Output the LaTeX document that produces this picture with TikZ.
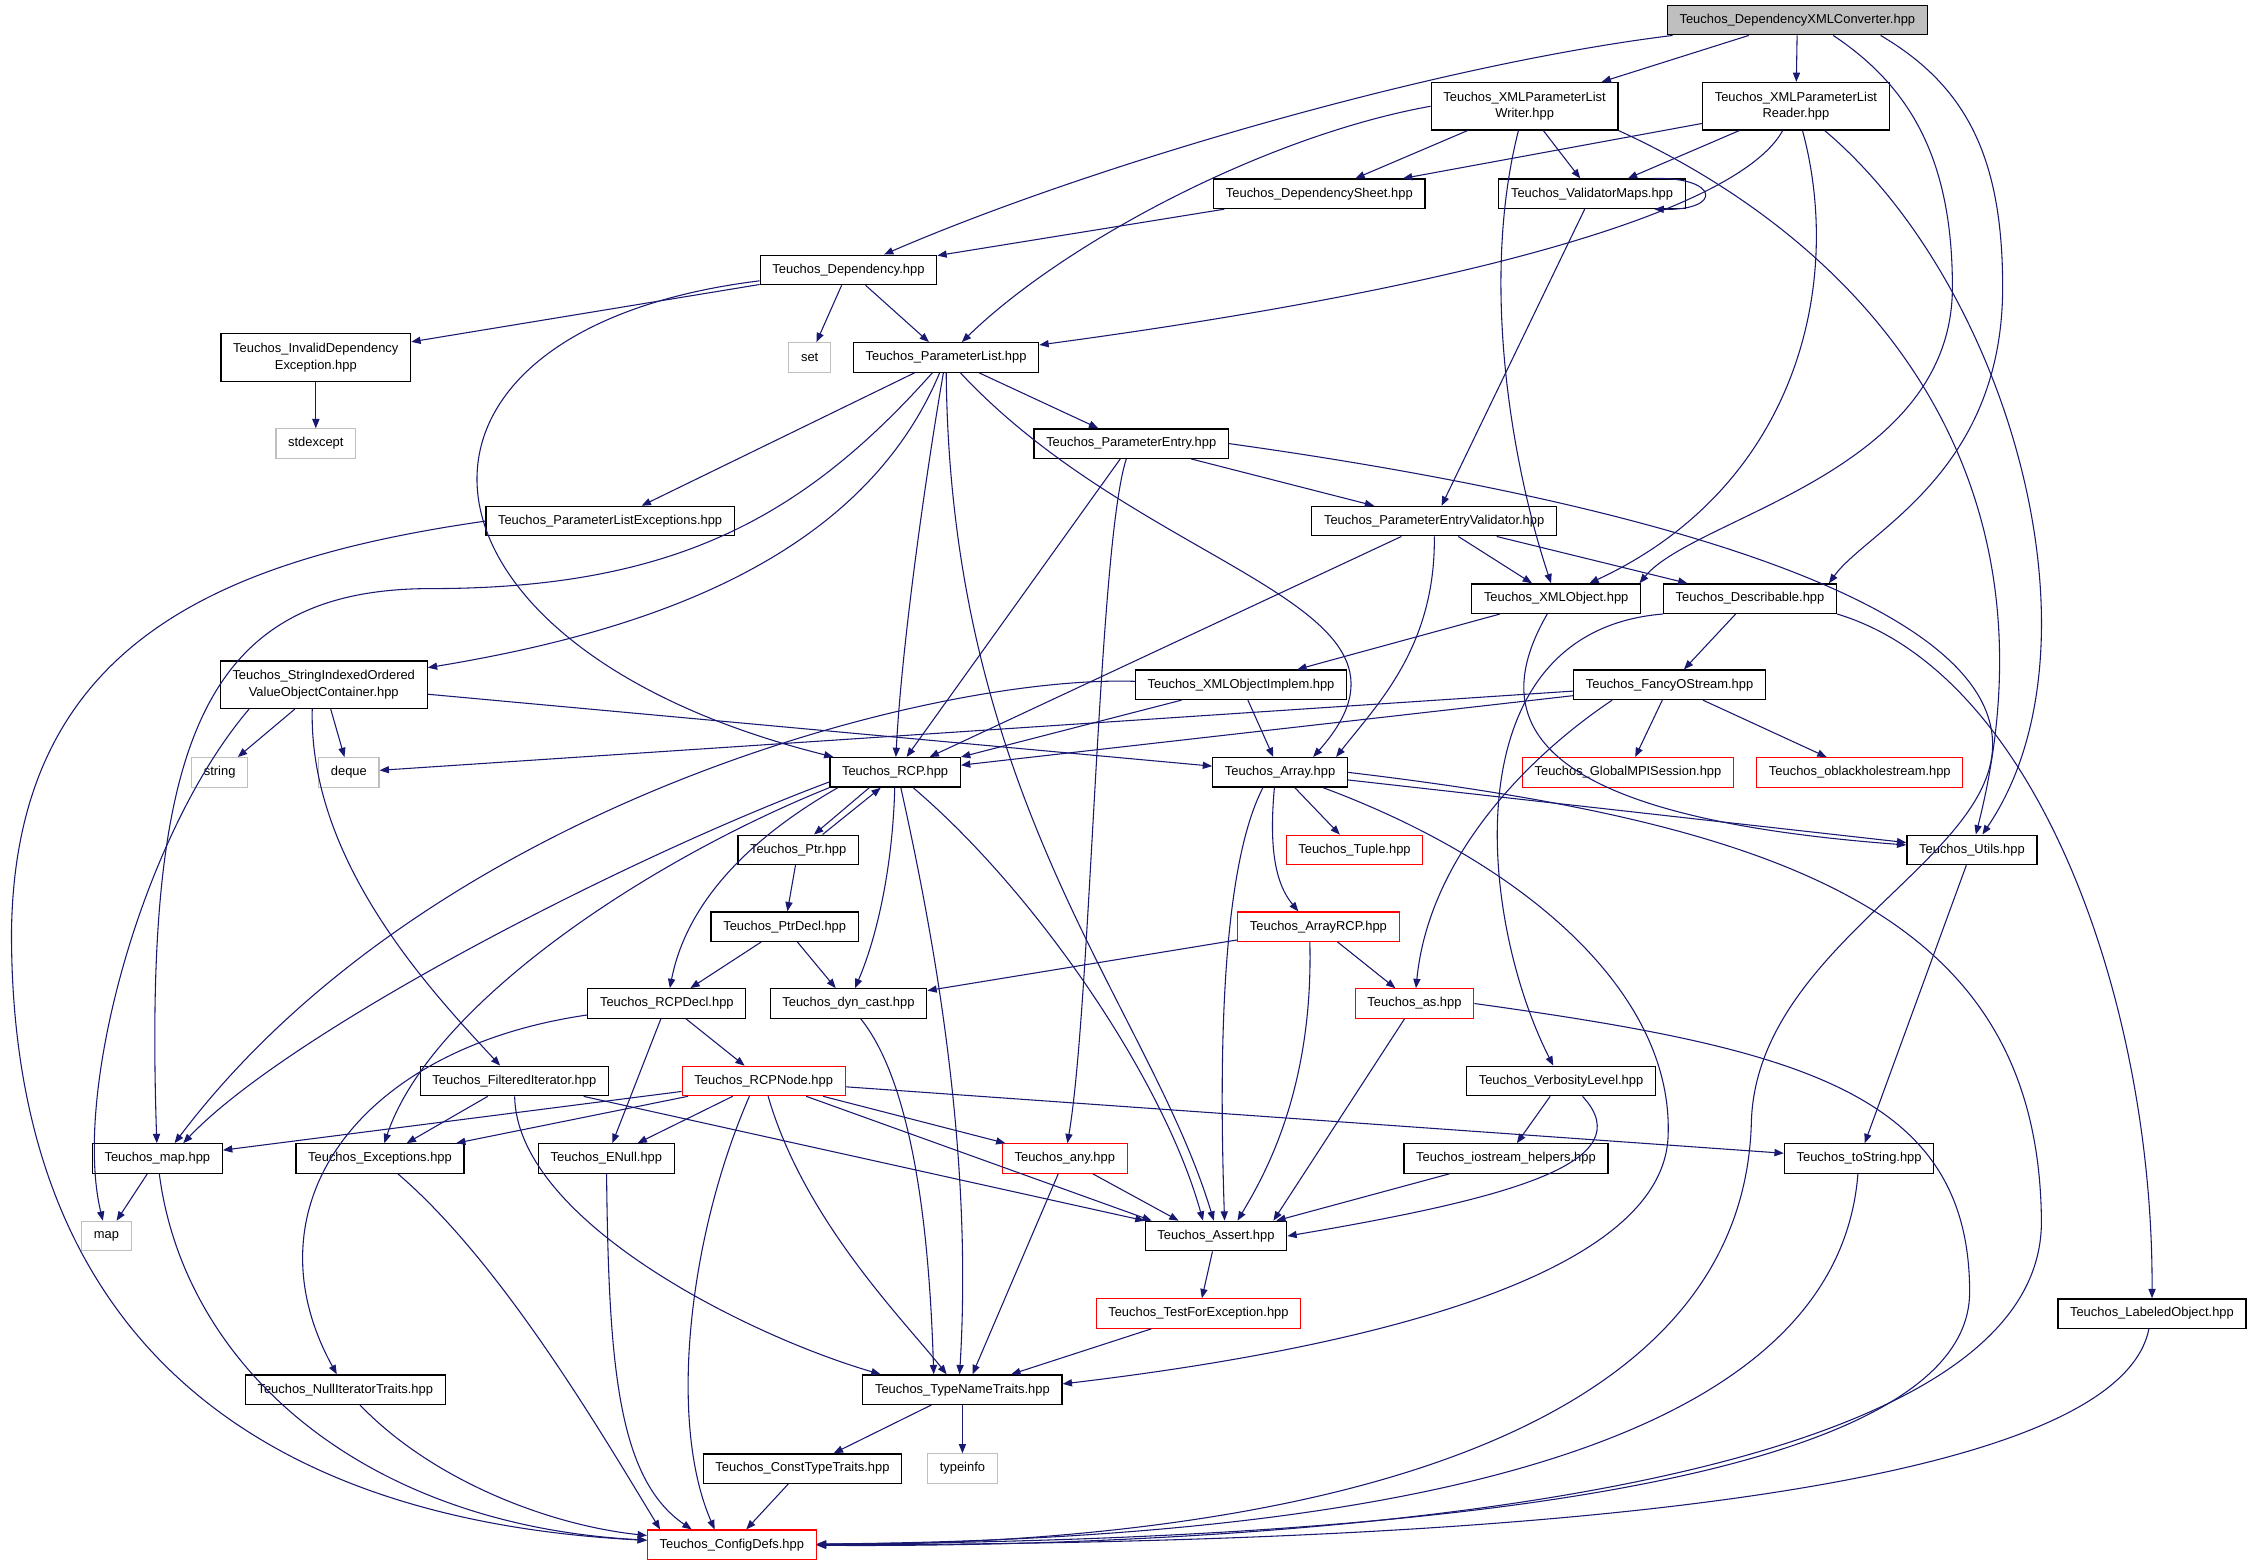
\documentclass[tikz,border=0pt]{standalone}
\usepackage{fontspec}
\setmainfont{Liberation Sans}
\usepackage[rgb]{xcolor}
\usepackage{tikz}
\usetikzlibrary{arrows.meta}
\definecolor{dox_edge}{HTML}{191970}
\definecolor{dox_gray}{HTML}{BFBFBF}
\definecolor{dox_red}{HTML}{FF0000}

\begin{document}
\begin{tikzpicture}[x=1pt, y=-1pt,
        hfile/.style={draw=black, line width=0.9pt, fill=white, font=\fontsize{9}{11.5}\selectfont,
            inner xsep=8.5pt, inner ysep=3pt, minimum height=20.5pt, align=center},
        twoline/.style={minimum height=33pt},
        sysfile/.style={hfile, draw=dox_gray, line width=0.8pt},
        errfile/.style={hfile, draw=dox_red, line width=0.8pt},
        rootfile/.style={hfile, fill=dox_gray},
        incl/.style={draw=dox_edge, line width=0.75pt, -{Triangle[length=6.5pt,width=5pt]}}]

        \useasboundingbox (0,0) rectangle (1568,1090);

        \node[rootfile] (conv) at (1252,14) {Teuchos\_DependencyXMLConverter.hpp};
        \node[hfile, twoline] (writer) at (1062,74) {Teuchos\_XMLParameterList\\Writer.hpp};
        \node[hfile, twoline] (reader) at (1251,74) {Teuchos\_XMLParameterList\\Reader.hpp};
        \node[hfile] (depsheet) at (919,135) {Teuchos\_DependencySheet.hpp};
        \node[hfile] (valmaps) at (1109,135) {Teuchos\_ValidatorMaps.hpp};
        \node[hfile] (dep) at (591,188) {Teuchos\_Dependency.hpp};
        \node[hfile, twoline] (invdep) at (220,249) {Teuchos\_InvalidDependency\\Exception.hpp};
        \node[sysfile] (set) at (564,249) {set};
        \node[hfile] (plist) at (659,249) {Teuchos\_ParameterList.hpp};
        \node[sysfile] (stdexcept) at (220,309) {stdexcept};
        \node[hfile] (pentry) at (788,309) {Teuchos\_ParameterEntry.hpp};
        \node[hfile] (plexc) at (425,363) {Teuchos\_ParameterListExceptions.hpp};
        \node[hfile] (pev) at (999,363) {Teuchos\_ParameterEntryValidator.hpp};
        \node[hfile] (xmlobj) at (1084,417) {Teuchos\_XMLObject.hpp};
        \node[hfile] (describ) at (1219,417) {Teuchos\_Describable.hpp};
        \node[hfile, twoline] (sioc) at (225.5,477) {Teuchos\_StringIndexedOrdered\\ValueObjectContainer.hpp};
        \node[hfile] (xmlimpl) at (864.5,477) {Teuchos\_XMLObjectImplem.hpp};
        \node[hfile] (fancy) at (1163,477) {Teuchos\_FancyOStream.hpp};
        \node[sysfile] (string) at (153,538) {string};
        \node[sysfile] (deque) at (243,538) {deque};
        \node[hfile] (rcp) at (623.5,538) {Teuchos\_RCP.hpp};
        \node[hfile] (array) at (891.7,538) {Teuchos\_Array.hpp};
        \node[errfile] (gmpi) at (1134,538) {Teuchos\_GlobalMPISession.hpp};
        \node[errfile] (oblack) at (1295.5,538) {Teuchos\_oblackholestream.hpp};
        \node[hfile] (ptr) at (556,592) {Teuchos\_Ptr.hpp};
        \node[errfile] (tuple) at (943.5,592) {Teuchos\_Tuple.hpp};
        \node[hfile] (utils) at (1373.6,592) {Teuchos\_Utils.hpp};
        \node[hfile] (ptrdecl) at (546.6,645.5) {Teuchos\_PtrDecl.hpp};
        \node[errfile] (arcp) at (918.4,645.5) {Teuchos\_ArrayRCP.hpp};
        \node[hfile] (rcpdecl) at (464.5,699) {Teuchos\_RCPDecl.hpp};
        \node[hfile] (dyncast) at (591,699) {Teuchos\_dyn\_cast.hpp};
        \node[errfile] (as) at (985.3,699) {Teuchos\_as.hpp};
        \node[hfile] (filt) at (358.3,753) {Teuchos\_FilteredIterator.hpp};
        \node[errfile] (rcpnode) at (532,753) {Teuchos\_RCPNode.hpp};
        \node[hfile] (verb) at (1087.4,753) {Teuchos\_VerbosityLevel.hpp};
        \node[hfile] (maphpp) at (109.6,807) {Teuchos\_map.hpp};
        \node[hfile] (exc) at (264.7,807) {Teuchos\_Exceptions.hpp};
        \node[hfile] (enull) at (422.4,807) {Teuchos\_ENull.hpp};
        \node[errfile] (any) at (741.7,807) {Teuchos\_any.hpp};
        \node[hfile] (iohelp) at (1049,807) {Teuchos\_iostream\_helpers.hpp};
        \node[hfile] (tostr) at (1295,807) {Teuchos\_toString.hpp};
        \node[sysfile] (map) at (74.2,861) {map};
        \node[hfile] (assert) at (847,861) {Teuchos\_Assert.hpp};
        \node[errfile] (testexc) at (834.8,915) {Teuchos\_TestForException.hpp};
        \node[hfile] (labeled) at (1499,915) {Teuchos\_LabeledObject.hpp};
        \node[hfile] (nulliter) at (240.5,968) {Teuchos\_NullIteratorTraits.hpp};
        \node[hfile] (typename) at (670.4,968) {Teuchos\_TypeNameTraits.hpp};
        \node[hfile] (consttype) at (559,1023) {Teuchos\_ConstTypeTraits.hpp};
        \node[sysfile] (typeinfo) at (670.4,1023) {typeinfo};
        \node[errfile] (config) at (509.8,1076) {Teuchos\_ConfigDefs.hpp};

        \draw[incl] (conv) -- (writer);
        \draw[incl] (conv) -- (reader);
        \draw[incl] (conv) .. controls (1000,45) and (760,115) .. (dep);
        \draw[incl] ([xshift=25pt]conv.south) .. controls (1330,60) and (1360,110) .. (1360,200)
            .. controls (1360,330) and (1180,360) .. ([xshift=58pt]xmlobj.north);
        \draw[incl] ([xshift=58pt]conv.south) .. controls (1370,60) and (1395,110) .. (1395,200)
            .. controls (1395,330) and (1300,370) .. ([xshift=55pt]describ.north);

        \draw[incl] (writer) -- (depsheet);
        \draw[incl] (writer) -- (valmaps);
        \draw[incl] (writer.west) .. controls (880,95) and (740,170) .. (plist);
        \draw[incl] (writer) .. controls (1030,200) and (1055,330) .. (xmlobj);
        \draw[incl] (writer.south east) .. controls (1300,170) and (1440,330) .. (utils);

        \draw[incl] (reader) -- (depsheet);
        \draw[incl] (reader) -- (valmaps);
        \draw[incl] (reader) .. controls (1215,140) and (1060,195) .. (plist);
        \draw[incl] (reader) .. controls (1285,200) and (1250,340) .. (xmlobj);
        \draw[incl] (reader) .. controls (1400,200) and (1470,450) .. (utils);

        \draw[incl] ([xshift=-22pt]valmaps.north east) .. controls +(45,-1) and +(48,1) .. ([xshift=-22pt]valmaps.south east);
        \draw[incl] (valmaps) -- (pev);
        \draw[incl] (depsheet) -- (dep);

        \draw[incl] (dep) -- (invdep);
        \draw[incl] (dep) -- (set);
        \draw[incl] (dep) -- (plist);
        \draw[incl] (dep) .. controls (250,230) and (270,450) .. (rcp);
        \draw[incl] (invdep) -- (stdexcept);

        \draw[incl] (plist) -- (pentry);
        \draw[incl] (plist) -- (plexc);
        \draw[incl] (plist) .. controls (560,360) and (470,410) .. (300,410)
            .. controls (140,410) and (100,520) .. (maphpp);
        \draw[incl] (plist) .. controls (600,390) and (450,440) .. (sioc);
        \draw[incl] (plist) .. controls (645,330) and (628,450) .. (rcp);
        \draw[incl] (plist) .. controls (662,560) and (800,700) .. ([xshift=-1.5pt]assert.north);
        \draw[incl] (plist) .. controls (800,400) and (1010,420) .. ([xshift=23pt]array.north);

        \draw[incl] (pentry) -- (pev);
        \draw[incl] (pentry) -- ([xshift=8pt]rcp.north);
        \draw[incl] (pentry) .. controls (765,380) and (760,700) .. (any);
        \draw[incl] (pentry.east) .. controls (1150,350) and (1390,420) .. (1388,520)
            .. controls (1386,600) and (1225,660) .. (1220,780)
            .. controls (1215,1040) and (800,1076) .. (config);
        \draw[incl] (plexc.west) .. controls (150,390) and (10,450) .. (8,650)
            .. controls (8,950) and (200,1060) .. (config);

        \draw[incl] (pev) -- (xmlobj);
        \draw[incl] (pev) -- (describ);
        \draw[incl] (pev) -- ([xshift=24pt]rcp.north);
        \draw[incl] (pev) .. controls (1000,450) and (960,490) .. ([xshift=39pt]array.north);

        \draw[incl] (xmlobj) -- (xmlimpl);
        \draw[incl] (xmlobj) .. controls (1030,510) and (1080,570) .. (utils);
        \draw[incl] (describ) -- (fancy);
        \draw[incl] (describ.south west) .. controls (1010,440) and (1030,640) .. (verb);
        \draw[incl] (describ.south east) .. controls (1420,470) and (1500,700) .. (labeled);

        \draw[incl] (sioc) -- (string);
        \draw[incl] (sioc) -- (deque);
        \draw[incl] ([xshift=-52pt]sioc.south) .. controls (100,580) and (50,760) .. (map);
        \draw[incl] ([xshift=-8pt]sioc.south) .. controls (215,600) and (300,690) .. (filt);
        \draw[incl] (sioc) -- (array);

        \draw[incl] (xmlimpl) .. controls (650,470) and (300,560) .. ([xshift=12pt]maphpp.north);
        \draw[incl] (xmlimpl) -- (rcp.north east);
        \draw[incl] (xmlimpl) -- (array);

        \draw[incl] (fancy) -- (deque);
        \draw[incl] (fancy) -- ([yshift=5pt]rcp.east);
        \draw[incl] (fancy) -- (gmpi);
        \draw[incl] (fancy) -- (oblack);
        \draw[incl] ([xshift=-40pt]fancy.south) .. controls (1060,530) and (995,600) .. (as);

        \draw[incl] ([xshift=-18pt]rcp.south) -- ([xshift=11pt]ptr.north);
        \draw[incl] ([yshift=4pt]rcp.south west) .. controls (430,600) and (200,720) .. ([xshift=18pt]maphpp.north);
        \draw[incl] (rcp.south west) .. controls (450,600) and (300,700) .. ([xshift=3pt]exc.north);
        \draw[incl] ([xshift=6pt]rcp.south west) .. controls (520,585) and (478,630) .. (rcpdecl);
        \draw[incl] (rcp) .. controls (622,600) and (612,650) .. (dyncast);
        \draw[incl] ([xshift=4pt]rcp.south) .. controls (650,650) and (678,800) .. ([xshift=-2pt]typename.north);
        \draw[incl] (rcp) .. controls (720,620) and (810,750) .. ([xshift=-9pt]assert.north);

        \draw[incl] ([xshift=17pt]ptr.north) -- ([xshift=-10pt]rcp.south);
        \draw[incl] (ptr) -- (ptrdecl);
        \draw[incl] (ptrdecl) -- (rcpdecl);
        \draw[incl] (ptrdecl) -- (dyncast);

        \draw[incl] (array) -- (tuple);
        \draw[incl] ([xshift=-4pt]array.south) .. controls (884,590) and (888,615) .. ([xshift=-14pt]arcp.north);
        \draw[incl] ([xshift=-12pt]array.south) .. controls (848,610) and (850,760) .. ([xshift=6pt]assert.north);
        \draw[incl] ([xshift=30pt]array.south) .. controls (1060,600) and (1165,690) .. (1162,790)
            .. controls (1160,900) and (900,945) .. ([yshift=4pt]typename.east);
        \draw[incl] (array) -- (utils);
        \draw[incl] (array.east) .. controls (1250,575) and (1420,640) .. (1422,850)
            .. controls (1424,1060) and (800,1078) .. (config);
        \draw[incl] (utils) -- (tostr);

        \draw[incl] (arcp) -- (dyncast);
        \draw[incl] (arcp) -- (as);
        \draw[incl] ([xshift=-6pt]arcp.south) .. controls (915,760) and (880,820) .. ([xshift=15pt]assert.north);
        \draw[incl] (as) -- ([xshift=40pt]assert.north);
        \draw[incl] (as.east) .. controls (1250,730) and (1372,760) .. (1372,900)
            .. controls (1372,1062) and (800,1074) .. (config);

        \draw[incl] (rcpdecl) -- (rcpnode);
        \draw[incl] (rcpdecl) -- (enull);
        \draw[incl] (rcpdecl) .. controls (250,730) and (170,840) .. (nulliter);
        \draw[incl] (dyncast) .. controls (640,760) and (648,880) .. ([xshift=-20pt]typename.north);

        \draw[incl] (filt) -- (exc);
        \draw[incl] (filt) -- (assert.north west);
        \draw[incl] (filt) .. controls (360,850) and (520,930) .. ([xshift=-57pt]typename.north);

        \draw[incl] (rcpnode) -- (maphpp);
        \draw[incl] (rcpnode) -- ([xshift=-6pt]exc.north east);
        \draw[incl] (rcpnode) -- (enull);
        \draw[incl] (rcpnode) -- (any);
        \draw[incl] (rcpnode) -- ([xshift=5pt]assert.north west);
        \draw[incl] (rcpnode) .. controls (560,850) and (630,920) .. ([xshift=-11pt]typename.north);
        \draw[incl] ([xshift=-10pt]rcpnode.south) .. controls (480,860) and (465,990) .. ([xshift=-12pt]config.north);
        \draw[incl] (rcpnode) -- (tostr);

        \draw[incl] (verb) -- (iohelp);
        \draw[incl] ([xshift=15pt]verb.south) .. controls (1145,810) and (1050,835) .. (assert.east);
        \draw[incl] (iohelp) -- ([xshift=42pt]assert.north);
        \draw[incl] (any) -- ([xshift=-26pt]assert.north);
        \draw[incl] (any) -- ([xshift=7pt]typename.north);

        \draw[incl] (maphpp) -- (map);
        \draw[incl] (maphpp) .. controls (128,950) and (250,1062) .. (config);
        \draw[incl] (exc) .. controls (350,880) and (420,1000) .. ([xshift=-50pt]config.north);
        \draw[incl] (enull) .. controls (424,950) and (430,1030) .. ([xshift=-28pt]config.north);
        \draw[incl] (nulliter) .. controls (300,1030) and (380,1062) .. (config);
        \draw[incl] (tostr) .. controls (1280,1000) and (1000,1072) .. (config);
        \draw[incl] (labeled) .. controls (1470,1060) and (900,1076) .. (config);

        \draw[incl] (assert) -- (testexc);
        \draw[incl] (testexc) -- ([xshift=34pt]typename.north);
        \draw[incl] (typename) -- (consttype);
        \draw[incl] (typename) -- (typeinfo);
        \draw[incl] (consttype) -- ([xshift=10pt]config.north);

\end{tikzpicture}
\end{document}
